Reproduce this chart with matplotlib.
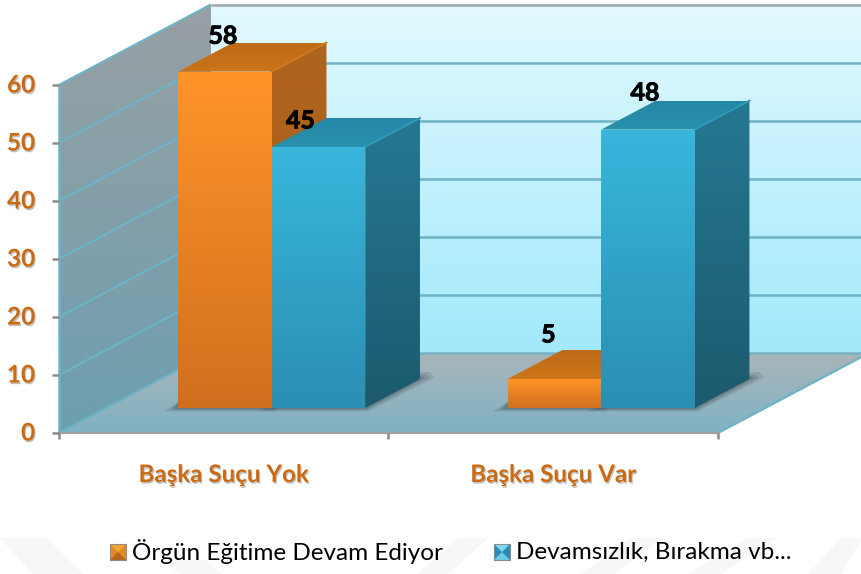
import numpy as np
import matplotlib
matplotlib.use('Agg')
from matplotlib import pyplot as plt
from matplotlib import patheffects as pe
from matplotlib.colors import LinearSegmentedColormap
from matplotlib.patches import Polygon

plt.rcParams['font.family'] = ['Lato', 'DejaVu Sans']

categories = ["Başka Suçu Yok", "Başka Suçu Var"]
series_names = ["Örgün Eğitime Devam Ediyor", "Devamsızlık, Bırakma vb..."]
orgun = [58, 5]
devamsiz = [45, 48]
y_ticks = [0, 10, 20, 30, 40, 50, 60]

W, H = 862, 574
X0, Y0 = 59, 433        # pixel of the front corner (x=0, value=0)
CAT_W = 329.5           # pixels per category
UNIT = 5.8              # pixels per value unit
DX = 152 / CAT_W        # full floor depth
DY = 80.5 / UNIT

ORANGE = "#CC6A12"


def proj(x, v, d=0.0):
    return x + d * DX, v + d * DY


def px(x, y):
    # figure pixel -> data coords, for things that sit outside the plot
    return (x - X0) / CAT_W, (Y0 - y) / UNIT


def poly(ax, pts, c1, c2=None, z=1, alpha=None):
    # polygon filled with a vertical gradient from c1 (top) to c2 (bottom)
    p = Polygon(pts, closed=True, facecolor=c1 if c2 is None else 'none',
                edgecolor='none', zorder=z, alpha=alpha)
    ax.add_patch(p)
    if c2 is not None:
        pts = np.array(pts)
        cm = LinearSegmentedColormap.from_list('g', [c1, c2])
        im = ax.imshow(np.linspace(0, 1, 256).reshape(-1, 1), cmap=cm, aspect='auto',
                       extent=(pts[:, 0].min(), pts[:, 0].max(), pts[:, 1].min(), pts[:, 1].max()),
                       origin='upper', zorder=z)
        im.set_clip_path(p)
    return p


def bar3d(ax, x, w, v, colors):
    front, top, side, edge = colors
    d0, d1 = 25 / 80.5, 54 / 80.5
    a = proj(x, 0, d0)
    b = proj(x + w, 0, d0)
    c = proj(x + w, v, d0)
    e = proj(x, v, d0)
    f = proj(x, v, d1)
    g = proj(x + w, v, d1)
    h = proj(x + w, 0, d1)
    # soft shadow on the floor, a few see-through layers
    for grow, al in [(1.0, 0.18), (0.65, 0.25), (0.35, 0.35)]:
        poly(ax, [(a[0] - 0.045 * grow, a[1] - 0.6 * grow), (b[0] + 0.01 * grow, b[1] - 0.6 * grow),
                  (h[0] + 0.045 * grow, h[1] + 0.2), (h[0] + 0.03 * grow, h[1] + 1.2 * grow),
                  (h[0], h[1] + 1.2 * grow), (a[0], a[1] + 1)], "#4E5C66", z=3, alpha=al)
    poly(ax, [e, c, g, f], top[0], top[1], z=4)
    poly(ax, [b, c, g, h], side[0], side[1], z=4)
    ax.plot([c[0], g[0]], [c[1], g[1]], color=edge, lw=1.4, zorder=4.5)
    poly(ax, [a, b, c, e], front[0], front[1], z=5)


fig = plt.figure(figsize=(W / 100, H / 100), dpi=100)
ax = fig.add_axes([0, 0, 1, 1])
ax.set_xlim(-X0 / CAT_W, (W - X0) / CAT_W)
ax.set_ylim((Y0 - H) / UNIT, Y0 / UNIT)
ax.axis('off')

# faint watermark strips at the bottom of the page
bands = [(0, 47, 83, 33, 538), (163, 205, 222, 180, 560), (458, 488, 448, 418, 538),
         (631, 664, 614, 581, 538), (748, 778, 721, 688, 538), (841, 862, 841, 808, 538)]
for xtl, xtr, xbr, xbl, yt in bands:
    poly(ax, [px(xtl, yt), px(xtr, yt), px(xbr, 574), px(xbl, 574)], "#F7F7F7", z=0)

# walls and floor
xr = len(categories)
poly(ax, [proj(0, 0, 1), proj(xr, 0, 1), proj(xr, 60, 1), proj(0, 60, 1)], "#E2F9FF", "#A2E9FB", z=1)
poly(ax, [proj(0, 0), proj(0, 0, 1), proj(0, 60, 1), proj(0, 60)], "#989FA3", "#6D9FB0", z=1)
poly(ax, [proj(0, 0), proj(xr, 0), proj(xr, 0, 1), proj(0, 0, 1)], "#ABB5BA", "#7FB2C3", z=1)

# gridlines on the walls
GRID = "#6DB3C6"
for t in y_ticks:
    x1, y1 = proj(0, t, 1)
    x2, y2 = proj(xr, t, 1)
    x0, y0 = proj(0, t)
    c = "#9BA7AB" if t == 60 else GRID
    ax.plot([x1, x2], [y1, y2], color=c, lw=1.8, zorder=2, solid_capstyle='butt')
    ax.plot([x0, x1], [y0, y1], color=GRID, lw=1.6, zorder=2, solid_capstyle='butt')
x1, y1 = proj(xr, 0)
x2, y2 = proj(xr, 0, 1)
ax.plot([x1, x2], [y1, y2], color=GRID, lw=1.6, zorder=2)

# axis lines and ticks
AX = "#8C8C8C"
ax.plot([0, 0], [0, 60], color=GRID, lw=1.8, zorder=2)
ax.plot([0, xr], [0, 0], color="#A0A0A0", lw=1.6, zorder=6)
for t in y_ticks:
    ax.plot([-7 / CAT_W, 0], [t, t], color=AX, lw=1.8, zorder=6, solid_capstyle='butt')
for i in range(xr + 1):
    ax.plot([i, i], [0, -6 / UNIT], color=AX, lw=1.8, zorder=6, solid_capstyle='butt')

# bars
ORANGE_C = (("#FF9429", "#D06F1E"), ("#BE6A16", "#CC7418"), ("#B0651E", "#A85C14"), "#CE7A1E")
BLUE_C = (("#38B6DC", "#2A8FB2"), ("#2587A5", "#2990AE"), ("#257892", "#1C5A6E"), "#2F9AB8")
BAR_L = 72 / CAT_W
BAR_W = 93.5 / CAT_W
for i in range(xr):
    bar3d(ax, i + BAR_L, BAR_W, orgun[i], ORANGE_C)
    bar3d(ax, i + BAR_L + BAR_W, BAR_W, devamsiz[i], BLUE_C)

# axis text
shadow = [pe.withSimplePatchShadow(offset=(0.8, -1.2), shadow_rgbFace="#999999", alpha=0.6)]
for t in y_ticks:
    ax.text(-24 / CAT_W, t, str(t), ha='right', va='center', fontsize=17.5, fontweight='bold',
            color=ORANGE, zorder=7, path_effects=shadow)
for i, name in enumerate(categories):
    ax.text(i + 0.5, -41.5 / UNIT, name, ha='center', va='center', fontsize=17.4, fontweight='bold',
            color=ORANGE, zorder=7, path_effects=shadow)

# data labels, each one was nudged by hand in the original
LABEL_DX = [[-2, -6], [-18, -3]]
LABEL_DY = [[10.4, 11.9], [8.8, 10.6]]
heavy = [pe.withStroke(linewidth=0.6, foreground='black')]
for s, vals in enumerate([orgun, devamsiz]):
    for i, v in enumerate(vals):
        xl = proj(i + BAR_L + BAR_W * (s + 0.5), v, 25 / 80.5)[0]
        ax.text(xl + LABEL_DX[s][i] / CAT_W, v + LABEL_DY[s][i], str(v), ha='center', va='center',
                fontsize=18, fontweight='bold', color='black', zorder=8, path_effects=heavy)

# legend
LEG_Y = (Y0 - 552) / UNIT
markers = [("#F7A635", "#E08A28", "#B8661C"), ("#7FD8F0", "#2A8CB2", "#6CCBE6")]
for lx, col, name in zip([110, 494], markers, series_names):
    x0, x1 = (lx - X0) / CAT_W, (lx + 16 - X0) / CAT_W
    y0, y1 = LEG_Y - 8 / UNIT, LEG_Y + 8 / UNIT
    xc, yc = (x0 + x1) / 2, (y0 + y1) / 2
    poly(ax, [(x0, y0), (x1, y0), (x1, y1), (x0, y1)], col[1], z=7)
    poly(ax, [(x0, y1), (x1, y1), (xc, yc)], col[0], z=8)
    poly(ax, [(x0, y0), (x1, y0), (xc, yc)], col[2], z=8)
    ax.plot([x0, x1, x1, x0, x0], [y0, y0, y1, y1, y0], color="#8C8C8C", lw=0.8, zorder=9)
    ax.text((lx + 22 - X0) / CAT_W, LEG_Y, name, ha='left', va='center', fontsize=17.5, color='black', zorder=8)

plt.savefig("out.png", dpi=100)
